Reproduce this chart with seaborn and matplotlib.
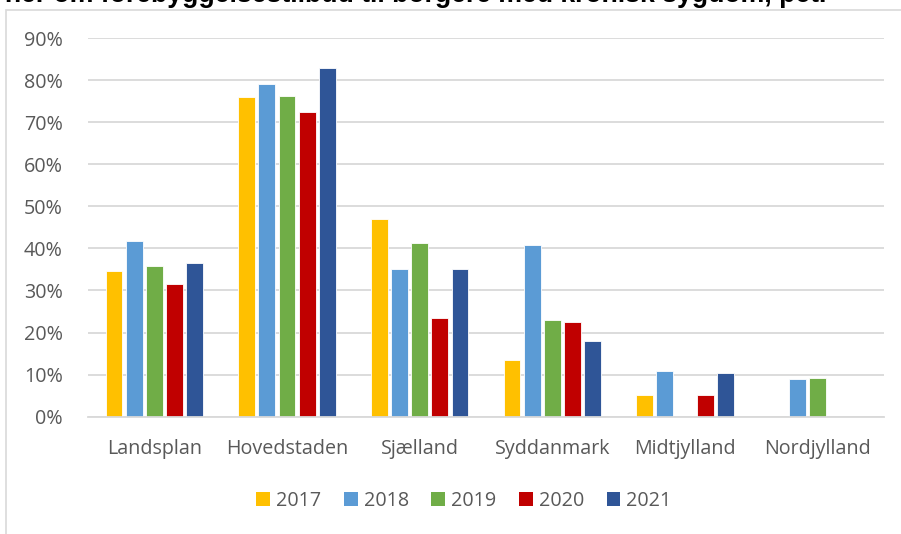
import numpy as np
import pandas as pd
import matplotlib
matplotlib.use("Agg")
import matplotlib.pyplot as plt
from matplotlib.patches import Patch, Rectangle
import seaborn as sns

categories = ["Landsplan", "Hovedstaden", "Sjælland", "Syddanmark", "Midtjylland", "Nordjylland"]
years = ["2017", "2018", "2019", "2020", "2021"]
v2017 = [34.6, 75.9, 47.0, 13.5, 5.2, np.nan]
v2018 = [41.8, 79.0, 35.0, 40.9, 10.9, 9.0]
v2019 = [35.8, 76.1, 41.3, 22.9, np.nan, 9.3]
v2020 = [31.5, 72.4, 23.4, 22.6, 5.2, np.nan]
v2021 = [36.6, 82.8, 35.2, 18.1, 10.5, np.nan]
colors = ["#FFC000", "#5B9BD5", "#70AD47", "#C00000", "#2F5597"]
title = "ner om forebyggelsestilbud til borgere med kronisk sygdom, pct."
yticks = [0, 10, 20, 30, 40, 50, 60, 70, 80, 90]

rows = []
for y, vals in zip(years, [v2017, v2018, v2019, v2020, v2021]):
    for c, v in zip(categories, vals):
        rows.append({"Region": c, "År": y, "Pct": v})
df = pd.DataFrame(rows).dropna()

sns.set_theme(style="white")
plt.rcParams['font.family'] = ['Open Sans', 'DejaVu Sans']
txt = "#595959"

W, H = 901, 534
fig = plt.figure(figsize=(W / 100, H / 100), dpi=100)
ax = fig.add_axes([88 / W, 1 - 416.7 / H, (884 - 88) / W, (416.7 - 38) / H])

sns.barplot(data=df, x="Region", y="Pct", hue="År", order=categories, hue_order=years,
            palette=colors, width=0.76, gap=0.16, edgecolor="white", linewidth=0.6,
            saturation=1, ax=ax, legend=False)

ax.set_ylim(0, 90)
ax.set_xlim(-0.5, 5.5)
ax.set_yticks(yticks)
ax.set_yticklabels([f"{t}%" for t in yticks])
ax.grid(axis="y", color="#d9d9d9", linewidth=1.3)
ax.set_axisbelow(True)
for s in ["top", "right", "left"]:
    ax.spines[s].set_visible(False)
ax.spines["bottom"].set_color("#d9d9d9")
ax.spines["bottom"].set_linewidth(1.3)
ax.tick_params(axis="y", length=0, pad=18, labelsize=14.2, labelcolor=txt)
ax.tick_params(axis="x", length=0, pad=16, labelsize=14.2, labelcolor=txt)
ax.set_xlabel("")
ax.set_ylabel("")

handles = [Patch(facecolor=c, edgecolor="none", label=y) for c, y in zip(colors, years)]
fig.legend(handles=handles, loc="center", bbox_to_anchor=(464 / W, 1 - 501 / H), ncol=5,
           frameon=False, fontsize=14.2, handlelength=0.7, handleheight=0.7,
           handletextpad=0.3, columnspacing=1.15, labelcolor=txt)

# chart frame
fig.patches.append(Rectangle((6 / W, -0.05), 1.2, 1 - 10 / H + 0.05, transform=fig.transFigure,
                             fill=False, edgecolor="#d9d9d9", linewidth=1.2))

# title (clipped at the top edge, as in the reference)
t = fig.text(5 / W, 1 - 2.5 / H, title, fontsize=16, fontweight="bold",
             family="Liberation Sans", color="black", ha="left", va="baseline")
fig.canvas.draw()
bb = t.get_window_extent()
t.set_fontsize(16 * 822 / bb.width)

fig.savefig("out.png", dpi=100)
